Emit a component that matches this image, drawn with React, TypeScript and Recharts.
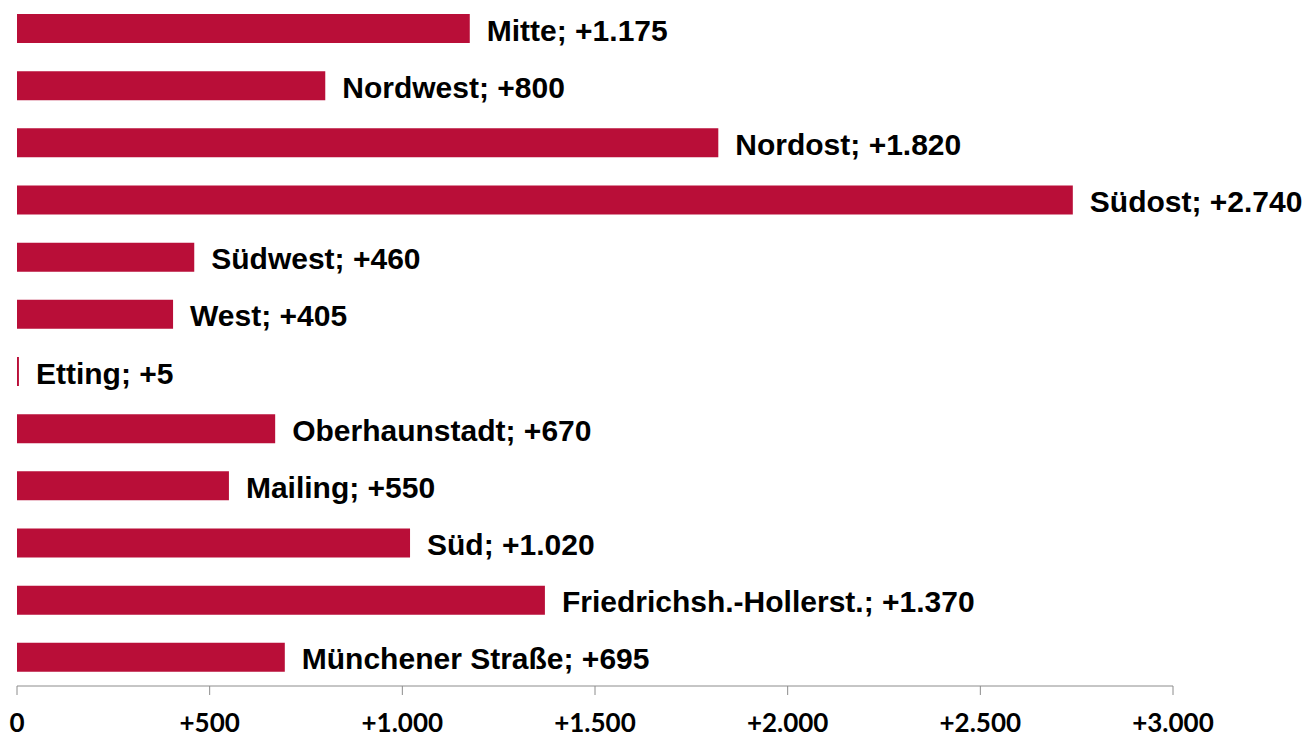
import { BarChart, Bar, XAxis, YAxis, LabelList } from 'recharts'

const districts = [
  'Mitte',
  'Nordwest',
  'Nordost',
  'Südost',
  'Südwest',
  'West',
  'Etting',
  'Oberhaunstadt',
  'Mailing',
  'Süd',
  'Friedrichsh.-Hollerst.',
  'Münchener Straße',
]
const growth = [1175, 800, 1820, 2740, 460, 405, 5, 670, 550, 1020, 1370, 695]
const axisTicks = [0, 500, 1000, 1500, 2000, 2500, 3000]

const data = districts.map((name, i) => ({ name, value: growth[i] }))

// 1.175 style thousands separator, with a plus sign for positive values
const fmt = (v: number) => {
  const s = String(Math.abs(v)).replace(/\B(?=(\d{3})+(?!\d))/g, '.')
  return v > 0 ? '+' + s : s
}

const BarLabel = (props: any) => {
  const { x, y, width, height, index } = props
  const d = data[index]
  return (
    <text
      x={x + width + 17}
      y={y + height / 2 + 12}
      fontFamily="'Liberation Sans', Arial, sans-serif"
      fontWeight="bold"
      fontSize={30}
      fill="#000"
    >
      {d.name}; {fmt(d.value)}
    </text>
  )
}

const AxisTick = (props: any) => {
  const { x, y, payload } = props
  return (
    <text
      x={x}
      y={y + 37}
      textAnchor="middle"
      fontFamily="Lato, 'Open Sans', sans-serif"
      fontWeight={700}
      fontSize={26}
      fill="#000"
    >
      {fmt(payload.value)}
    </text>
  )
}

export default function App() {
  return (
    <div style={{ position: 'absolute', left: 0, top: 0, background: '#fff' }}>
      <BarChart
        width={1307}
        height={736}
        data={data}
        layout="vertical"
        margin={{ top: 0, right: 134, bottom: 0, left: 17 }}
      >
        <XAxis
          type="number"
          domain={[0, 3000]}
          ticks={axisTicks}
          interval={0}
          height={50}
          stroke="#8c8c8c"
          tickSize={9}
          tickMargin={0}
          tick={<AxisTick />}
        />
        <YAxis type="category" dataKey="name" hide />
        <Bar dataKey="value" fill="#b90e38" barSize={29} isAnimationActive={false}>
          <LabelList dataKey="value" content={<BarLabel />} />
        </Bar>
      </BarChart>
    </div>
  )
}
